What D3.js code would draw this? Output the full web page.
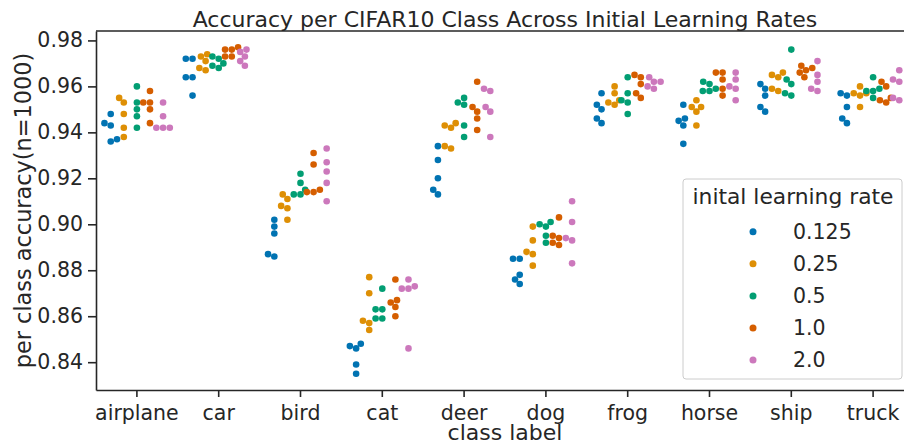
<!DOCTYPE html>
<html>
<head>
<meta charset="utf-8">
<script src="https://cdn.jsdelivr.net/npm/d3@7"></script>
<style>
  body { margin: 0; background: #fff; }
  svg { display: block; font-family: "DejaVu Sans", sans-serif; }
</style>
</head>
<body>
<svg id="chart" width="904" height="444"></svg>
<script>
const classes = ["airplane", "car", "bird", "cat", "deer", "dog", "frog", "horse", "ship", "truck"]
const rates = ["0.125", "0.25", "0.5", "1.0", "2.0"]
const colors = ["#0173b2", "#de8f05", "#029e73", "#d55e00", "#cc78bc"]
const yTicks = [0.84, 0.86, 0.88, 0.90, 0.92, 0.94, 0.96, 0.98]

// per class accuracy for each initial learning rate (5 runs per class)
const lr0125 = [
  [0.948, 0.944, 0.943, 0.937, 0.936],
  [0.972, 0.972, 0.964, 0.964, 0.956],
  [0.902, 0.899, 0.896, 0.887, 0.886],
  [0.848, 0.847, 0.846, 0.839, 0.835],
  [0.934, 0.928, 0.920, 0.915, 0.913],
  [0.885, 0.885, 0.878, 0.876, 0.874],
  [0.957, 0.952, 0.950, 0.946, 0.944],
  [0.952, 0.946, 0.945, 0.943, 0.935],
  [0.961, 0.959, 0.956, 0.951, 0.949],
  [0.957, 0.956, 0.951, 0.946, 0.944]
]
const lr025 = [
  [0.955, 0.953, 0.948, 0.942, 0.938],
  [0.974, 0.973, 0.971, 0.968, 0.967],
  [0.913, 0.911, 0.908, 0.907, 0.902],
  [0.877, 0.870, 0.858, 0.857, 0.854],
  [0.944, 0.943, 0.942, 0.934, 0.933],
  [0.899, 0.893, 0.888, 0.887, 0.882],
  [0.960, 0.957, 0.954, 0.953, 0.952],
  [0.954, 0.951, 0.951, 0.949, 0.943],
  [0.966, 0.965, 0.964, 0.959, 0.958],
  [0.960, 0.957, 0.957, 0.956, 0.951]
]
const lr05 = [
  [0.960, 0.953, 0.950, 0.947, 0.942],
  [0.973, 0.972, 0.970, 0.969, 0.968],
  [0.922, 0.918, 0.915, 0.913, 0.913],
  [0.872, 0.863, 0.863, 0.859, 0.859],
  [0.955, 0.953, 0.952, 0.943, 0.938],
  [0.901, 0.900, 0.899, 0.895, 0.892],
  [0.964, 0.957, 0.954, 0.953, 0.948],
  [0.962, 0.961, 0.959, 0.958, 0.958],
  [0.976, 0.963, 0.961, 0.957, 0.956],
  [0.964, 0.959, 0.958, 0.958, 0.955]
]
const lr1 = [
  [0.958, 0.953, 0.953, 0.950, 0.944],
  [0.977, 0.976, 0.976, 0.973, 0.973],
  [0.931, 0.926, 0.915, 0.914, 0.914],
  [0.876, 0.867, 0.866, 0.864, 0.860],
  [0.962, 0.951, 0.949, 0.946, 0.941],
  [0.903, 0.895, 0.894, 0.892, 0.891],
  [0.965, 0.964, 0.961, 0.957, 0.955],
  [0.966, 0.966, 0.963, 0.959, 0.956],
  [0.969, 0.968, 0.967, 0.966, 0.964],
  [0.962, 0.960, 0.955, 0.954, 0.953]
]
const lr2 = [
  [0.953, 0.947, 0.942, 0.942, 0.942],
  [0.976, 0.975, 0.973, 0.971, 0.969],
  [0.933, 0.927, 0.923, 0.918, 0.910],
  [0.876, 0.873, 0.872, 0.872, 0.846],
  [0.959, 0.958, 0.951, 0.949, 0.938],
  [0.910, 0.901, 0.894, 0.893, 0.883],
  [0.964, 0.962, 0.962, 0.960, 0.959],
  [0.966, 0.963, 0.960, 0.959, 0.954],
  [0.971, 0.965, 0.962, 0.959, 0.958],
  [0.967, 0.963, 0.962, 0.955, 0.954]
]
const series = [lr0125, lr025, lr05, lr1, lr2]

const margin = { top: 31, right: -10, bottom: 54, left: 96 }
const W = 904, H = 444
const width = W - margin.left - margin.right
const height = H - margin.top - margin.bottom
const ink = "#262626"

const svg = d3.select("#chart")
const g = svg.append("g").attr("transform", `translate(${margin.left},${margin.top})`)

// scales
const x = d3.scaleBand().domain(classes).range([0, width])
const hue = d3.scalePoint().domain(rates).range([-0.32 * x.bandwidth(), 0.32 * x.bandwidth()])

const all = series.flat(2)
const lo = d3.min(all), hi = d3.max(all), pad = (hi - lo) * 0.05
const y = d3.scaleLinear().domain([lo - pad, hi + pad]).range([height, 0])

// axes
const xAxis = g.append("g")
  .attr("transform", `translate(0,${height})`)
  .call(d3.axisBottom(x).tickSize(7).tickSizeOuter(0).tickPadding(5))
const yAxis = g.append("g")
  .call(d3.axisLeft(y).tickValues(yTicks).tickFormat(d3.format(".2f")).tickSize(8).tickSizeOuter(0).tickPadding(5))

for (const ax of [xAxis, yAxis]) {
  ax.select(".domain").attr("stroke", ink).attr("stroke-width", 1.6)
  ax.selectAll(".tick line").attr("stroke", ink).attr("stroke-width", 1.6)
  ax.selectAll(".tick text").attr("fill", ink).attr("font-size", 20.5).attr("font-family", "DejaVu Sans")
}
xAxis.selectAll(".tick text").attr("dy", "0.87em")

// top and right spines
g.append("line").attr("x1", 0).attr("x2", width).attr("y1", 0).attr("y2", 0)
  .attr("stroke", ink).attr("stroke-width", 1.6)
g.append("line").attr("x1", width).attr("x2", width).attr("y1", 0).attr("y2", height)
  .attr("stroke", ink).attr("stroke-width", 1.6)

// beeswarm placement like seaborn's swarmplot
const d = 6.4
function swarm(vals, mid) {
  const pts = vals.map(v => ({ v, py: y(v) })).sort((a, b) => a.v - b.v)
  const placed = []
  for (const p of pts) {
    const nb = placed.filter(q => Math.abs(q.py - p.py) < d)
    const cands = [mid]
    for (const q of nb) {
      const dy = p.py - q.py
      const dx = Math.sqrt(Math.max(d * d - dy * dy, 0)) * 1.05
      cands.push(q.px - dx, q.px + dx)
    }
    const order = cands.map((c, i) => [c, i]).sort((a, b) => (Math.abs(a[0] - mid) - Math.abs(b[0] - mid)) || (a[1] - b[1]))
    let chosen = order[0][0]
    for (const [c] of order) {
      const ok = nb.every(q => (c - q.px) ** 2 + (p.py - q.py) ** 2 >= d * d - 1e-6)
      if (ok) { chosen = c; break }
    }
    p.px = chosen
    placed.push(p)
  }
  return placed
}

const points = []
series.forEach((s, hi) => {
  s.forEach((vals, ci) => {
    const mid = x(classes[ci]) + x.bandwidth() / 2 + hue(rates[hi])
    swarm(vals, mid).forEach(p => points.push({ ...p, color: colors[hi] }))
  })
})

g.selectAll("circle.pt")
  .data(points)
  .enter()
  .append("circle")
  .attr("class", "pt")
  .attr("cx", p => p.px)
  .attr("cy", p => p.py)
  .attr("r", 3.3)
  .attr("fill", p => p.color)

// labels
svg.append("text")
  .attr("x", 505).attr("y", 27)
  .attr("text-anchor", "middle").attr("font-size", 22).attr("fill", ink)
  .text("Accuracy per CIFAR10 Class Across Initial Learning Rates")

svg.append("text")
  .attr("x", 505).attr("y", 440)
  .attr("text-anchor", "middle").attr("font-size", 22).attr("fill", ink)
  .text("class label")

svg.append("text")
  .attr("transform", `translate(31,${margin.top + height / 2}) rotate(-90)`)
  .attr("text-anchor", "middle").attr("font-size", 22.4).attr("fill", ink)
  .text("per class accuracy(n=1000)")

// legend
const legend = svg.append("g").attr("transform", "translate(683,179)")
legend.append("rect")
  .attr("width", 219).attr("height", 200).attr("rx", 3)
  .attr("fill", "#fff").attr("fill-opacity", 0.8)
  .attr("stroke", "#cccccc").attr("stroke-width", 1)
legend.append("text")
  .attr("x", 110).attr("y", 25)
  .attr("text-anchor", "middle").attr("font-size", 21.8).attr("fill", ink)
  .text("inital learning rate")
const items = legend.selectAll("g.item")
  .data(rates)
  .enter()
  .append("g")
  .attr("class", "item")
  .attr("transform", (r, i) => `translate(0,${52.7 + i * 32.1})`)
items.append("circle").attr("cx", 70).attr("cy", 0).attr("r", 3.5).attr("fill", (r, i) => colors[i])
items.append("text").attr("x", 110).attr("y", 7)
  .attr("font-size", 20.5).attr("fill", ink)
  .text(r => r)
</script>
</body>
</html>
